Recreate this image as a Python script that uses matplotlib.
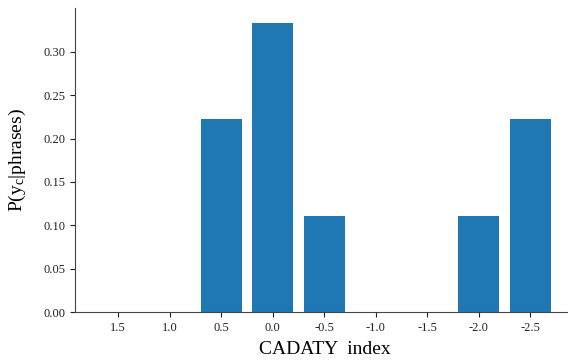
import numpy as np
import matplotlib.pyplot as plt

plt.rcParams['font.family'] = ['Liberation Serif', 'DejaVu Serif']
plt.rcParams['mathtext.fontset'] = 'custom'
plt.rcParams['mathtext.rm'] = 'Liberation Serif'
plt.rcParams['mathtext.it'] = 'Liberation Serif:italic'

# CADATY index categories and probabilities
categories = ['1.5', '1.0', '0.5', '0.0', '-0.5', '-1.0', '-1.5', '-2.0', '-2.5']
probs = [0.0, 0.0, 2 / 9, 1 / 3, 1 / 9, 0.0, 0.0, 1 / 9, 2 / 9]

fig, ax = plt.subplots(figsize=(5.68, 3.63), dpi=100)
ax.bar(categories, probs, width=0.8, color='#1f77b4')

ax.spines['top'].set_visible(False)
ax.spines['right'].set_visible(False)
for s in ['left', 'bottom']:
    ax.spines[s].set_color('#444444')
ax.tick_params(labelsize=9, colors='#222222')
ax.set_yticks(np.arange(0, 0.31, 0.05))
ax.set_yticklabels(['%.2f' % v for v in np.arange(0, 0.31, 0.05)])

ax.set_xlabel('CADATY  index', fontsize=14, labelpad=5)
ax.set_ylabel(r'$\mathrm{P(y_c|phrases)}$', fontsize=14, labelpad=11)

fig.subplots_adjust(left=0.132, right=1.01, top=0.977, bottom=0.14)
plt.savefig('out.png', dpi=100)
